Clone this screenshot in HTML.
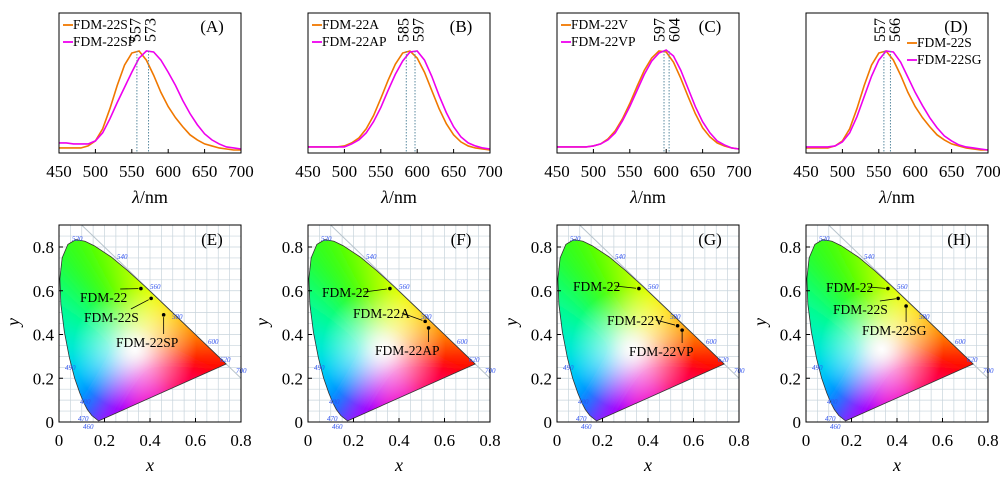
<!DOCTYPE html>
<html><head><meta charset="utf-8"><style>
body{margin:0;background:#fff}
svg{display:block}
text{font-family:"Liberation Serif","DejaVu Serif",serif}
</style></head><body>
<svg id="fig" width="1000" height="478" viewBox="0 0 1000 478" xmlns="http://www.w3.org/2000/svg" font-family="Liberation Serif, serif">
<defs id="defs"></defs>
</svg>
<script>
// ---- data ----
const waves=[450,460,470,480,490,500,510,520,530,540,550,560,570,580,590,600,610,620,630,640,650,660,670,680,690,700];
const sA1=[.03,.03,.03,.03,.05,.10,.22,.42,.65,.85,.97,.99,.90,.75,.58,.44,.33,.24,.16,.11,.07,.05,.03,.02,.01,.01];
const sA2=[.08,.08,.07,.07,.07,.10,.18,.32,.48,.63,.78,.92,.99,.98,.90,.78,.65,.50,.37,.26,.17,.11,.07,.04,.03,.02];
const sB1=[.04,.04,.04,.04,.04,.05,.08,.13,.22,.35,.52,.70,.86,.97,.99,.92,.78,.60,.42,.27,.16,.09,.05,.03,.02,.01];
const sB2=[.04,.04,.04,.04,.04,.04,.07,.11,.18,.29,.43,.60,.76,.89,.98,.99,.90,.74,.55,.38,.24,.14,.08,.05,.03,.02];
const sC1=[.04,.04,.04,.04,.04,.05,.07,.12,.20,.32,.47,.64,.80,.92,.99,.98,.88,.72,.54,.37,.23,.14,.08,.05,.03,.02];
const sC2=[.04,.04,.04,.04,.04,.05,.07,.11,.18,.30,.44,.60,.76,.89,.97,1.0,.94,.80,.62,.44,.29,.18,.10,.06,.03,.02];
const sD1=[.03,.03,.03,.03,.05,.10,.22,.42,.65,.85,.97,.99,.90,.75,.58,.44,.33,.24,.16,.11,.07,.05,.03,.02,.01,.01];
const sD2=[.04,.04,.04,.04,.05,.09,.18,.34,.54,.74,.90,.99,.98,.88,.73,.58,.45,.33,.23,.15,.10,.06,.04,.03,.02,.01];
const peaksA=[557,573],peaksB=[585,597],peaksC=[597,604],peaksD=[557,566];
const namesTop=[["FDM-22S","FDM-22SP"],["FDM-22A","FDM-22AP"],["FDM-22V","FDM-22VP"],["FDM-22S","FDM-22SG"]];
const xTicksTop=[450,500,550,600,650,700];
const cieTicks=[0,0.2,0.4,0.6,0.8];
const cieE=[["FDM-22",.36,.61],["FDM-22S",.405,.565],["FDM-22SP",.46,.49]];
const cieF=[["FDM-22",.36,.61],["FDM-22A",.515,.46],["FDM-22AP",.53,.43]];
const cieG=[["FDM-22",.36,.61],["FDM-22V",.53,.44],["FDM-22VP",.55,.42]];
const cieH=[["FDM-22",.36,.61],["FDM-22S",.405,.565],["FDM-22SG",.44,.53]];
const locus=[[380,.1741,.0050],[460,.1440,.0297],[470,.1241,.0578],[475,.1096,.0868],[480,.0913,.1327],[485,.0687,.2007],[490,.0454,.2950],[495,.0235,.4127],[500,.0082,.5384],[505,.0039,.6548],[510,.0139,.7502],[515,.0389,.8120],[520,.0743,.8338],[525,.1142,.8262],[530,.1547,.8059],[540,.2296,.7543],[550,.3016,.6923],[560,.3731,.6245],[570,.4441,.5547],[580,.5125,.4866],[590,.5752,.4242],[600,.6270,.3725],[610,.6658,.3340],[620,.6915,.3083],[640,.7190,.2809],[700,.7347,.2653]];
// ---- helpers ----
const NS="http://www.w3.org/2000/svg";
const fig=document.getElementById('fig');
const defs=document.getElementById('defs');
function mk(tag,attrs,parent,txt){const e=document.createElementNS(NS,tag);for(const k in attrs)e.setAttribute(k,attrs[k]);if(tag==='text')e.setAttribute('font-family','Liberation Serif, serif');if(txt!==undefined)e.textContent=txt;(parent||fig).appendChild(e);return e;}
function hue(w){const st=[[380,[60,40,255]],[460,[40,60,255]],[475,[0,120,255]],[485,[0,190,255]],[490,[0,230,230]],[500,[0,255,140]],[510,[40,255,40]],[530,[80,255,0]],[550,[160,255,0]],[570,[255,255,0]],[580,[255,200,0]],[600,[255,100,0]],[620,[255,20,0]],[700,[255,0,0]]];
 for(let i=0;i<st.length-1;i++){if(w<=st[i+1][0]){const t=(w-st[i][0])/(st[i+1][0]-st[i][0]);const c=st[i][1].map((v,j)=>Math.round(v+(st[i+1][1][j]-v)*t));return `rgb(${c})`;}}return 'rgb(255,0,0)';}
const series=[[sA1,sA2,peaksA],[sB1,sB2,peaksB],[sC1,sC2,peaksC],[sD1,sD2,peaksD]];
const letters=["A","B","C","D"],letters2=["E","F","G","H"];
const cies=[cieE,cieF,cieG,cieH];
const PW=249;
// ---- top panels ----
for(let p=0;p<4;p++){
 const x0=59+p*PW,yT=13,yB=153;
 const g=mk('g',{});  
 const X=w=>x0+(w-450)/250*182, Y=v=>151-v*101;
 const [s1,s2,pk]=series[p];
 [[s1,'#f07800'],[s2,'#ee00ee']].forEach((s,k)=>{
  const pl=mk('polyline',{points:waves.map((w,i)=>X(w)+','+Y(s[0][i])).join(' '),fill:'none',stroke:s[1],'stroke-width':1.6},g);
   
 });
 pk.forEach((w,k)=>{
  const l=mk('line',{x1:X(w),x2:X(w),y1:Y(0.99),y2:yB,stroke:'#5a8aa0','stroke-width':1,'stroke-dasharray':'1.5,1.5'},g);
   
  const cx=(X(pk[0])+X(pk[1]))/2, lx=k?Math.max(X(w),cx+7.5):Math.min(X(w),cx-7.5);
  const t=mk('text',{x:0,y:0,transform:`translate(${lx+5.5},42) rotate(-90)`,'font-size':16},g,String(w));
   
 });
 const fr=mk('rect',{x:x0,y:yT,width:182,height:140,fill:'none',stroke:'#000','stroke-width':1},g);
  
 xTicksTop.forEach(w=>{
  mk('line',{x1:X(w),x2:X(w),y1:yB,y2:yB-4,stroke:'#000'},g);
  const t=mk('text',{x:X(w),y:177,'text-anchor':'middle','font-size':17},g,String(w));
   
 });
 const at=mk('text',{x:x0+91,y:203,'text-anchor':'middle','font-size':18},g);
  
 mk('tspan',{'font-style':'italic'},at,'λ'); mk('tspan',{},at,'/nm');
 const lt=mk('text',{x:p==3?x0+150:x0+153,y:32,'text-anchor':'middle','font-size':17},g,'('+letters[p]+')');
  
 const lx=p==3?x0+101:x0+4, ly=p==3?47:29;
 namesTop[p].forEach((n,k)=>{
  const lg=mk('g',{},g);  
  mk('line',{x1:lx,x2:lx+10,y1:ly+k*17-4,y2:ly+k*17-4,stroke:k?'#ee00ee':'#f07800','stroke-width':1.8},lg);
  mk('text',{x:lx+10,y:ly+k*17,'font-size':13.5},lg,n);
 });
}
// ---- CIE panels ----
const wp=[0.333,0.333];
const wlabels=[[520,13,13],[540,58,31],[560,91,61],[580,113,91],[600,149,116],[620,161,134],[700,177,145],[490,6,142],[480,21,176],[470,19,193],[460,24,201]];
for(let p=0;p<4;p++){
 const x0=59+p*PW,yB=422,yT=225;
 const X=v=>x0+v*227.5, Y=v=>yB-v*218.75;
 const g=mk('g',{});  
 for(let v=0.05;v<0.9;v+=0.05){
  if(X(v)<x0+182) mk('line',{x1:X(v),x2:X(v),y1:yT,y2:yB,stroke:'#c8d4dc','stroke-width':0.7},g);
  if(Y(v)>yT) mk('line',{x1:x0,x2:x0+182,y1:Y(v),y2:Y(v),stroke:'#c8d4dc','stroke-width':0.7},g);
 }
 mk('line',{x1:X(0.1),y1:Y(0.9),x2:X(0.8),y2:Y(0.2),stroke:'#b8c4cc','stroke-width':1},g);
 const cid='clip'+p, fid='blur'+p;
 const cp=mk('clipPath',{id:cid},defs);
 const pts=locus.map(d=>X(d[1])+','+Y(d[2])).join(' ');
 mk('polygon',{points:pts},cp);
 const f=mk('filter',{id:fid,x:'-20%',y:'-20%',width:'140%',height:'140%'},defs);
 mk('feGaussianBlur',{stdDeviation:9},f);
 const gam=mk('g',{'clip-path':`url(#${cid})`},g);  
 const bg=mk('g',{filter:`url(#${fid})`},gam);
 const W=[X(wp[0]),Y(wp[1])];
 const ext=(d)=>{const dx=X(d[1])-W[0],dy=Y(d[2])-W[1];return [W[0]+dx*1.4,W[1]+dy*1.4];};
 for(let i=0;i<locus.length-1;i++){
  const a=ext(locus[i]),b=ext(locus[i+1]);
  mk('polygon',{points:`${W} ${a} ${b}`,fill:hue((locus[i][0]+locus[i+1][0])/2),stroke:hue((locus[i][0]+locus[i+1][0])/2),'stroke-width':1},bg);
 }
 const purp=['rgb(255,0,0)','rgb(255,0,90)','rgb(240,0,200)','rgb(160,0,255)','rgb(60,40,255)'];
 const r=locus[locus.length-1],bl=locus[0];
 for(let k=0;k<4;k++){
  const a=[r[1]+(bl[1]-r[1])*k/4,r[2]+(bl[2]-r[2])*k/4],b=[r[1]+(bl[1]-r[1])*(k+1)/4,r[2]+(bl[2]-r[2])*(k+1)/4];
  const A=ext([0,a[0],a[1]]),B=ext([0,b[0],b[1]]);
  mk('polygon',{points:`${W} ${A} ${B}`,fill:purp[k],stroke:purp[k]},bg);
 }
 const rg=mk('radialGradient',{id:'wg'+p},defs);
 mk('stop',{offset:'0','stop-color':'#fff','stop-opacity':1},rg);
 mk('stop',{offset:'0.45','stop-color':'#fff','stop-opacity':0.55},rg);
 mk('stop',{offset:'1','stop-color':'#fff','stop-opacity':0},rg);
 mk('circle',{cx:W[0],cy:W[1],r:62,fill:`url(#wg${p})`},gam);
 mk('polygon',{points:pts,fill:'none',stroke:'#333','stroke-width':0.8},g);
 wlabels.forEach(l=>{const t=mk('text',{x:x0+l[1],y:yT+l[2]+3,'font-size':7,fill:'#3355ee','font-style':'italic'},g,String(l[0]));});
 const fr=mk('rect',{x:x0,y:yT,width:182,height:yB-yT,fill:'none',stroke:'#000'},g);
  
 cieTicks.forEach(v=>{
  mk('line',{x1:X(v),x2:X(v),y1:yB,y2:yB-4,stroke:'#000'},g);
  mk('line',{x1:x0,x2:x0+4,y1:Y(v),y2:Y(v),stroke:'#000'},g);
  const t=mk('text',{x:X(v),y:446,'text-anchor':'middle','font-size':17},g,String(v));
   
  const t2=mk('text',{x:x0-5,y:Y(v)+6,'text-anchor':'end','font-size':17},g,String(v));
   
 });
 const xt=mk('text',{x:x0+91,y:471,'text-anchor':'middle','font-size':18,'font-style':'italic'},g,'x');
  
 const yt=mk('text',{x:0,y:0,transform:`translate(${x0-40},322) rotate(-90)`,'text-anchor':'middle','font-size':18,'font-style':'italic'},g,'y');
  
 const lt=mk('text',{x:x0+153,y:245,'text-anchor':'middle','font-size':17},g,'('+letters2[p]+')');
  
 const annPos=[[[21,302],[25,322],[57,347]],[[14,297],[45,318],[67,355]],[[16,291],[50,325],[72,356]],[[20,292],[27,314],[56,335]]][p];
 cies[p].forEach((d,k)=>{
  const px=X(d[1]),py=Y(d[2]);
  const ag=mk('g',{},g);  
  mk('circle',{cx:px,cy:py,r:1.8,fill:'#000'},ag);
  const tx=x0+annPos[k][0],ty=annPos[k][1];
  mk('text',{x:tx,y:ty,'font-size':13.5},ag,d[0]);
  const tw=d[0].length*6.7;
  let sx,sy;
  if(ty-4>py+8){sx=Math.min(Math.max(px,tx+5),tx+tw);sy=ty-13;}else{sx=tx+tw+2;sy=ty-5;}
  mk('line',{x1:sx,y1:sy,x2:px-(px-sx)*0.12,y2:py-(py-sy)*0.12,stroke:'#000','stroke-width':0.8},ag);
 });
}
</script>
</body></html>
